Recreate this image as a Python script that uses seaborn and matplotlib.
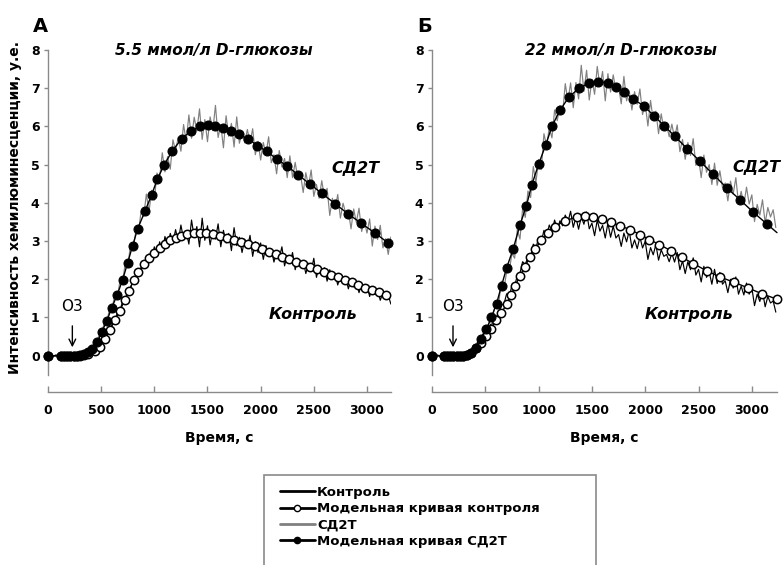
import numpy as np
import matplotlib
matplotlib.use("Agg")
import matplotlib.pyplot as plt
from matplotlib.patches import Rectangle
from matplotlib.lines import Line2D
import seaborn as sns

# Sampling interval of the recorded chemiluminescence traces, s
STEP = 25

# ---- Panel A: 5.5 mmol/l D-glucose -------------------------------------
ctrl_a = [
    0.00, 0.01, -0.01, 0.02, 0.00, 0.01, -0.02, 0.01, 0.02, 0.00, -0.01, 0.02, 0.01, 0.00,
    0.03, 0.04, 0.08, 0.10, 0.16, 0.20, 0.31, 0.38, 0.54, 0.62,
    0.80, 0.90, 1.10, 1.17, 1.40, 1.46, 1.70, 1.76, 1.98, 2.02, 2.25, 2.24,
    2.48, 2.40, 2.66, 2.52, 2.85, 2.62, 2.98, 2.72, 3.12, 2.85, 3.20, 2.96,
    3.30, 2.98, 3.42, 3.05, 3.25, 2.92, 3.55, 3.10, 3.38, 2.85, 3.60, 3.02,
    3.40, 2.90, 3.30, 3.05, 3.45, 2.85, 3.28, 2.95, 3.20, 2.75, 3.35, 2.88,
    3.10, 2.70, 3.05, 2.82, 3.15, 2.60, 2.98, 2.70, 2.95, 2.52, 2.88, 2.62,
    2.80, 2.45, 2.72, 2.55, 2.85, 2.35, 2.62, 2.42, 2.70, 2.25, 2.55, 2.35,
    2.48, 2.15, 2.42, 2.22, 2.55, 2.05, 2.35, 2.12, 2.30, 1.95, 2.25, 2.02,
    2.15, 1.85, 2.10, 1.92, 2.05, 1.75, 2.00, 1.80, 1.95, 1.65, 1.88, 1.72,
    1.85, 1.55, 1.78, 1.60, 1.72, 1.45, 1.65, 1.50, 1.58, 1.35,
]
sd2t_a = [
    0.00, 0.02, 0.00, -0.01, 0.02, 0.01, -0.01, 0.02, 0.00, 0.01, -0.02, 0.01, 0.02,
    0.03, 0.04, 0.12, 0.12, 0.26, 0.27, 0.50, 0.52, 0.82, 0.84,
    1.18, 1.20, 1.55, 1.50, 1.92, 1.88, 2.40, 2.30, 2.90, 2.75,
    3.24, 3.22, 3.77, 3.64, 4.23, 3.77, 4.33, 4.07, 4.78, 4.66,
    5.31, 4.81, 5.21, 4.88, 5.65, 5.36, 5.72, 5.35, 6.05, 5.61,
    6.30, 5.69, 6.24, 5.88, 6.46, 5.66, 6.18, 5.60, 6.25, 5.89,
    6.55, 5.71, 6.05, 5.44, 6.28, 5.74, 6.08, 5.46, 6.25, 5.56,
    5.84, 5.57, 5.92, 5.57, 5.94, 5.26, 5.61, 5.12, 5.58, 5.27,
    5.73, 5.05, 5.26, 4.76, 5.37, 4.94, 5.16, 4.66, 5.23, 4.66,
    5.06, 4.62, 4.75, 4.27, 4.79, 4.43, 4.86, 4.17, 4.48, 4.12,
    4.58, 4.14, 4.38, 3.67, 4.12, 3.83, 4.22, 3.60, 3.99, 3.73,
    3.80, 3.32, 3.84, 3.49, 3.86, 3.25, 3.53, 3.21, 3.58, 2.87,
    3.39, 3.04, 3.41, 2.82, 3.06, 2.65, 3.11,
]
model_ctrl_a_t = [0, 120, 150, 180, 210, 240, 270, 300, 340, 380,
                  442, 489, 536, 583, 630, 677, 720, 762, 805,
                  850, 900, 950, 1000, 1050, 1100, 1150, 1200, 1255, 1310, 1370, 1430,
                  1490, 1555, 1620, 1685, 1750, 1815, 1880, 1945, 2010, 2075, 2140,
                  2205, 2270, 2335, 2400, 2465, 2530, 2595, 2660, 2725, 2790, 2855,
                  2920, 2985, 3050, 3115, 3180]
model_ctrl_a_y = [0, 0, 0, 0, 0, 0, 0, 0, 0.01, 0.04,
                  0.11, 0.24, 0.44, 0.68, 0.94, 1.18, 1.45, 1.70, 1.97,
                  2.20, 2.40, 2.56, 2.70, 2.82, 2.93, 3.02, 3.09, 3.14, 3.18, 3.20, 3.21,
                  3.21, 3.19, 3.13, 3.09, 3.04, 2.98, 2.92, 2.86, 2.78, 2.71, 2.65,
                  2.58, 2.52, 2.46, 2.40, 2.33, 2.26, 2.19, 2.12, 2.05, 1.98, 1.92,
                  1.85, 1.78, 1.72, 1.66, 1.59]
model_sd2t_a_t = [0, 120, 150, 180, 210, 240, 270, 300, 340, 380,
                  411, 464, 505, 552, 599, 652, 702, 749, 796, 843,
                  912, 975, 1028, 1094, 1169, 1258, 1348, 1430, 1505, 1570,
                  1643, 1718, 1799, 1884, 1968, 2056, 2150, 2251, 2354, 2464,
                  2574, 2699, 2818, 2944, 3075, 3200]
model_sd2t_a_y = [0, 0, 0, 0, 0, 0, 0, 0.01, 0.04, 0.09,
                  0.17, 0.35, 0.62, 0.90, 1.25, 1.60, 1.99, 2.43, 2.88, 3.32,
                  3.78, 4.21, 4.62, 5.00, 5.36, 5.68, 5.89, 6.00, 6.03, 6.00,
                  5.96, 5.89, 5.79, 5.67, 5.50, 5.35, 5.15, 4.96, 4.73, 4.49,
                  4.25, 3.98, 3.72, 3.47, 3.21, 2.95]

# ---- Panel B: 22 mmol/l D-glucose --------------------------------------
ctrl_b = [
    0.00, 0.01, 0.02, -0.01, 0.01, 0.00, 0.02, -0.01, 0.01, 0.02, 0.00, 0.01, -0.01, 0.02,
    0.04, 0.05, 0.14, 0.17, 0.32, 0.35, 0.56, 0.58, 0.82, 0.84,
    1.03, 1.07, 1.33, 1.35, 1.62, 1.55, 1.84, 1.81, 2.11, 2.16, 2.46, 2.38,
    2.60, 2.56, 2.92, 2.82, 3.08, 2.98, 3.28, 3.13, 3.42, 3.25, 3.55, 3.30,
    3.53, 3.40, 3.68, 3.49, 3.78, 3.36, 3.62, 3.31, 3.64, 3.44,
    3.76, 3.32, 3.47, 3.14, 3.55, 3.26, 3.41, 3.08, 3.47, 3.10,
    3.39, 3.08, 3.17, 2.86, 3.21, 2.98, 3.27, 2.82, 3.03, 2.80,
    3.11, 2.82, 2.99, 2.52, 2.83, 2.64, 2.91, 2.50, 2.77, 2.60,
    2.65, 2.46, 2.68, 2.45, 2.70, 2.25, 2.48, 2.15, 2.46, 2.25,
    2.56, 2.11, 2.26, 1.93, 2.34, 2.05, 2.20, 1.87, 2.26, 1.89,
    2.18, 1.87, 1.96, 1.65, 2.00, 1.77, 2.06, 1.61, 1.82, 1.59,
    1.90, 1.61, 1.78, 1.31, 1.61, 1.42, 1.69, 1.28, 1.55, 1.38,
    1.43, 1.14,
]
sd2t_b = [
    0.00, 0.02, -0.01, 0.01, 0.02, 0.00, 0.01, -0.02, 0.02, 0.01, 0.00, 0.02, -0.01, 0.03,
    0.05, 0.06, 0.18, 0.20, 0.42, 0.40, 0.72, 0.68, 1.05, 1.10,
    1.40, 1.35, 1.95, 1.75, 2.20, 2.22, 2.68, 2.55, 3.30, 3.05, 3.85, 3.62,
    4.31, 4.14, 4.95, 4.54, 5.13, 4.87, 5.81, 5.49, 5.97, 5.70, 6.43, 6.15,
    6.54, 6.33, 7.12, 6.66, 7.14, 6.49, 7.15, 6.72, 7.60, 6.92,
    7.47, 6.69, 7.23, 6.84, 7.57, 7.05, 7.44, 6.67, 7.38, 6.90,
    7.35, 6.93, 7.05, 6.59, 7.31, 6.67, 6.93, 6.43, 6.91, 6.58,
    6.98, 6.31, 6.60, 6.01, 6.68, 6.16, 6.40, 5.81, 6.33, 5.92,
    6.04, 5.73, 6.06, 5.69, 6.04, 5.34, 5.66, 5.14, 5.58, 5.24,
    5.68, 4.98, 5.18, 4.66, 5.25, 4.80, 5.00, 4.48, 5.04, 4.46,
    4.84, 4.40, 4.52, 4.05, 4.57, 4.23, 4.66, 3.99, 4.30, 3.95,
    4.41, 3.97, 4.21, 3.51, 3.96, 3.68, 4.08, 3.47, 3.88, 3.63,
    3.82, 3.35,
]
model_ctrl_b_t = [0, 110, 140, 170, 200, 230, 260, 290, 330, 370,
                  416, 463, 510, 551, 604, 651, 700, 740, 780, 823,
                  870, 917, 964, 1027, 1090, 1153, 1247, 1357, 1435, 1513,
                  1592, 1676, 1763, 1857, 1951, 2038, 2132, 2239, 2342, 2451,
                  2577, 2702, 2834, 2968, 3094, 3236]
model_ctrl_b_y = [0, 0, 0, 0, 0, 0, 0, 0, 0.01, 0.07,
                  0.20, 0.33, 0.51, 0.70, 0.94, 1.12, 1.35, 1.58, 1.83, 2.08,
                  2.32, 2.58, 2.79, 3.02, 3.21, 3.38, 3.53, 3.63, 3.65, 3.63,
                  3.58, 3.49, 3.40, 3.30, 3.17, 3.04, 2.91, 2.75, 2.58, 2.41,
                  2.22, 2.06, 1.92, 1.77, 1.62, 1.48]
model_sd2t_b_t = [0, 110, 140, 170, 200, 230, 260, 290, 330, 370,
                  417, 464, 511, 558, 605, 652, 699, 761, 824, 886,
                  937, 1000, 1066, 1126, 1200, 1284, 1380, 1468, 1559, 1647,
                  1725, 1803, 1888, 1988, 2082, 2176, 2279, 2395, 2513, 2633,
                  2765, 2890, 3015, 3140, 3236]
model_sd2t_b_y = [0, 0, 0, 0, 0, 0, 0, 0, 0.02, 0.07,
                  0.20, 0.44, 0.70, 1.01, 1.36, 1.83, 2.29, 2.79, 3.41, 3.93,
                  4.48, 5.01, 5.51, 6.01, 6.42, 6.77, 7.00, 7.13, 7.17, 7.14,
                  7.03, 6.89, 6.72, 6.53, 6.28, 6.02, 5.74, 5.41, 5.09, 4.76,
                  4.39, 4.08, 3.75, 3.45, 3.22]

x_ticks = [0, 500, 1000, 1500, 2000, 2500, 3000]
y_ticks = [0, 1, 2, 3, 4, 5, 6, 7, 8]

legend_labels = ["Контроль", "Модельная кривая контроля", "СД2Т", "Модельная кривая СД2Т"]

# ---- Style -------------------------------------------------------------
sns.set_theme(style="white")
plt.rcParams["font.family"] = ["DejaVu Sans"]
plt.rcParams["font.weight"] = "bold"
plt.rcParams["text.color"] = "black"
plt.rcParams["axes.labelcolor"] = "black"

AXIS_GREY = "#8a8a8a"
TRACE_GREY = "#808080"

W, H = 783, 565
fig = plt.figure(figsize=(W / 100, H / 100), dpi=100)


def add_axes_px(left, right, top, bottom):
    return fig.add_axes([left / W, 1 - bottom / H, (right - left) / W, (bottom - top) / H])


def fig_text_px(x, y, s, **kw):
    return fig.text(x / W, 1 - y / H, s, **kw)


def draw_panel(ax, xmax, ctrl, sd2t, mc_t, mc_y, ms_t, ms_y, n_marked_sd2t,
               title, title_xy, letter, letter_xy, o3_t, sd2t_lbl, ctrl_lbl):
    t_ctrl = STEP * np.arange(len(ctrl))
    t_sd2t = STEP * np.arange(len(sd2t))

    sns.lineplot(x=t_ctrl, y=ctrl, ax=ax, color="black", lw=0.85,
                 estimator=None, sort=False, zorder=2)
    sns.lineplot(x=t_sd2t, y=sd2t, ax=ax, color=TRACE_GREY, lw=0.85,
                 estimator=None, sort=False, zorder=2.1)
    sns.lineplot(x=mc_t, y=mc_y, ax=ax, color="black", lw=1.0, marker="o",
                 markersize=6.0, markerfacecolor="white", markeredgecolor="black",
                 markeredgewidth=1.1, estimator=None, sort=False,
                 clip_on=False, zorder=3)
    sns.lineplot(x=ms_t, y=ms_y, ax=ax, color="black", lw=1.0, marker="o",
                 markersize=6.5, markerfacecolor="black", markeredgecolor="black",
                 markevery=slice(0, n_marked_sd2t), estimator=None, sort=False,
                 clip_on=False, zorder=4)

    ax.set_xlim(0, xmax)
    ax.set_ylim(-0.95, 8.0)
    sns.despine(ax=ax)
    for side in ("left", "bottom"):
        ax.spines[side].set_color(AXIS_GREY)
        ax.spines[side].set_linewidth(1.0)
    ax.spines["left"].set_bounds(-0.5, 8)
    ax.spines["bottom"].set_bounds(0, xmax)

    ax.set_xticks(x_ticks)
    ax.set_yticks(y_ticks)
    ax.tick_params(axis="x", bottom=True, direction="in", length=4, width=1,
                   color=AXIS_GREY, pad=9, labelsize=9, labelcolor="black")
    ax.tick_params(axis="y", left=True, direction="out", length=3, width=1,
                   color=AXIS_GREY, pad=3, labelsize=9, labelcolor="black")
    for lab in ax.get_xticklabels() + ax.get_yticklabels():
        lab.set_fontweight("bold")

    ax.set_xlabel("Время, с", fontsize=10, fontweight="bold", labelpad=10)
    ax.set_ylabel("")

    fig_text_px(*title_xy, title, fontsize=11, fontweight="bold", style="italic",
                ha="center", va="center")

    ax.text(sd2t_lbl[0], sd2t_lbl[1], "СД2Т", fontsize=11.5, fontweight="bold",
            style="italic", ha="center", va="center")
    ax.text(ctrl_lbl[0], ctrl_lbl[1], "Контроль", fontsize=11.5, fontweight="bold",
            style="italic", ha="center", va="center")

    ax.annotate("O3", xy=(o3_t, 0.22), xytext=(o3_t, 1.28), ha="center", va="center",
                fontsize=11, fontweight="normal",
                arrowprops=dict(arrowstyle="->", color="black", lw=1.0,
                                shrinkA=6, shrinkB=0, mutation_scale=12))

    fig_text_px(*letter_xy, letter, fontsize=14, fontweight="bold",
                ha="center", va="center")


ax_a = add_axes_px(48, 391, 50, 392)
ax_b = add_axes_px(432, 777, 50, 392)

draw_panel(ax_a, 3226, ctrl_a, sd2t_a, model_ctrl_a_t, model_ctrl_a_y,
           model_sd2t_a_t, model_sd2t_a_y, len(model_sd2t_a_t),
           "5.5 ммол/л D-глюкозы", (214, 50), "A", (40, 26), 229,
           (2887, 4.9), (2492, 1.07))
draw_panel(ax_b, 3236, ctrl_b, sd2t_b, model_ctrl_b_t, model_ctrl_b_y,
           model_sd2t_b_t, model_sd2t_b_y, len(model_sd2t_b_t) - 1,
           "22 ммол/л D-глюкозы", (621, 50), "Б", (425, 27), 197,
           (3040, 4.92), (2411, 1.07))

fig_text_px(15, 207, "Интенсивность хемилюминесценции, у.е.",
            rotation=90, fontsize=10, fontweight="bold", ha="center", va="center")

# Legend below both panels, frame runs off the bottom edge
handles = [
    Line2D([], [], color="black", lw=2.0),
    Line2D([], [], color="black", lw=2.0, marker="o", markersize=4.5,
           markerfacecolor="white", markeredgecolor="black", markeredgewidth=1.0),
    Line2D([], [], color=TRACE_GREY, lw=2.0),
    Line2D([], [], color="black", lw=2.0, marker="o", markersize=4.5,
           markerfacecolor="black", markeredgecolor="black"),
]
fig.legend(handles, legend_labels, loc="upper left",
           bbox_to_anchor=(280 / W, 1 - 486 / H), frameon=False,
           prop=dict(size=9.5, weight="bold"), handlelength=2.65,
           handletextpad=0.15, labelspacing=0.25, borderpad=0, borderaxespad=0)
fig.add_artist(Rectangle((264 / W, -0.05), (596 - 264) / W, (565 - 475) / H + 0.05,
                         transform=fig.transFigure, fill=False,
                         edgecolor=AXIS_GREY, lw=1.2))

fig.savefig("out.png", dpi=100)
